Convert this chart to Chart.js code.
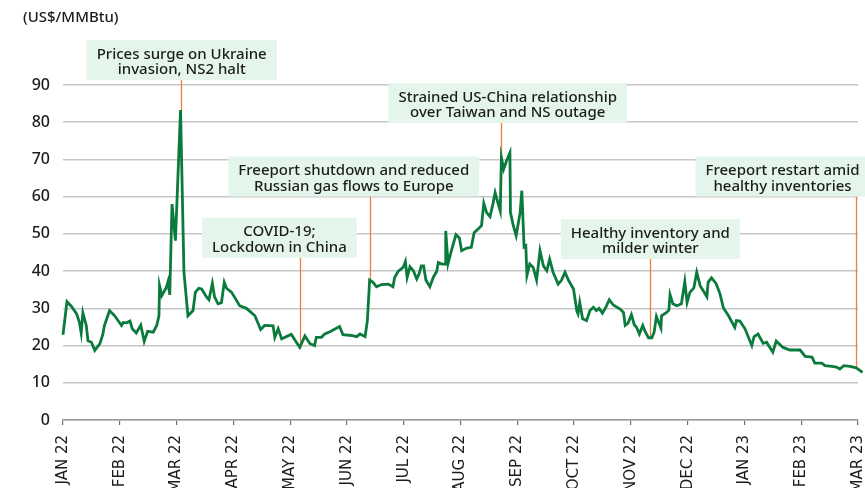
<!DOCTYPE html>
<html>
<head>
<meta charset="utf-8">
<script src="https://cdn.jsdelivr.net/npm/chart.js@4.4.1/dist/chart.umd.min.js"></script>
<style>
    html, body { margin: 0; padding: 0; background: #fff; overflow: hidden; }
</style>
</head>
<body>
<canvas id="lngChart" width="865" height="488"></canvas>
<script>
// tick labels, one per month (x position 0..14)
const monthLabels = ['JAN 22', 'FEB 22', 'MAR 22', 'APR 22', 'MAY 22', 'JUN 22', 'JUL 22', 'AUG 22',
    'SEP 22', 'OCT 22', 'NOV 22', 'DEC 22', 'JAN 23', 'FEB 23', 'MAR 23'];
const yTicks = [0, 10, 20, 30, 40, 50, 60, 70, 80, 90];

// price series: position in months since Jan 22, and US$/MMBtu
const priceMonth = [0.00, 0.07, 0.15, 0.24, 0.29, 0.32, 0.35, 0.41, 0.44, 0.50, 0.56, 0.65, 0.70, 0.73, 0.82, 0.91,
    1.03, 1.06, 1.12, 1.18, 1.22, 1.29, 1.37, 1.43, 1.49, 1.59, 1.65, 1.69, 1.70, 1.74, 1.82, 1.85, 1.88, 1.92, 1.98,
    2.07, 2.13, 2.20, 2.29, 2.33, 2.39, 2.44, 2.53, 2.57, 2.63, 2.67, 2.73, 2.79, 2.84, 2.88, 2.97,
    3.11, 3.23, 3.38, 3.48, 3.55, 3.70, 3.73, 3.79, 3.85,
    4.02, 4.11, 4.17, 4.26, 4.35, 4.43, 4.46, 4.55, 4.61, 4.71, 4.87, 4.93,
    5.08, 5.17, 5.23, 5.32, 5.36, 5.40, 5.46, 5.52, 5.61, 5.73, 5.81, 5.84, 5.90, 5.99,
    6.03, 6.06, 6.11, 6.17, 6.23, 6.27, 6.31, 6.35, 6.39, 6.46, 6.52, 6.58, 6.61, 6.67, 6.73, 6.74, 6.78, 6.84, 6.92, 6.98,
    7.02, 7.11, 7.19, 7.24, 7.31, 7.37, 7.41, 7.46, 7.52, 7.57, 7.61, 7.65, 7.70, 7.72, 7.76, 7.81, 7.87, 7.88, 7.93, 7.98,
    8.05, 8.08, 8.12, 8.15, 8.17, 8.22, 8.28, 8.34, 8.40, 8.46, 8.52, 8.57, 8.63, 8.72, 8.78, 8.84, 8.90, 8.99,
    9.05, 9.07, 9.10, 9.15, 9.22, 9.28, 9.34, 9.39, 9.44, 9.50, 9.56, 9.62, 9.69, 9.81, 9.87, 9.90, 9.95,
    10.01, 10.06, 10.10, 10.15, 10.21, 10.25, 10.31, 10.37, 10.41, 10.45, 10.53, 10.54, 10.63, 10.67, 10.69, 10.74, 10.81, 10.89, 10.95, 10.99,
    11.04, 11.11, 11.16, 11.22, 11.34, 11.36, 11.42, 11.50, 11.57, 11.63, 11.72, 11.83, 11.86, 11.92,
    12.01, 12.13, 12.17, 12.24, 12.33, 12.39, 12.50, 12.56, 12.68, 12.80, 12.98,
    13.07, 13.19, 13.24, 13.36, 13.42, 13.54, 13.62, 13.68, 13.75, 13.86, 13.97, 14.08];
const priceValue = [22.9, 31.8, 30.5, 28.5, 26.2, 23.4, 28.8, 25.4, 21.3, 20.9, 18.7, 20.5, 22.9, 25.4, 29.4, 28.0,
    25.4, 26.2, 26.1, 26.6, 24.5, 23.4, 25.5, 21.1, 23.8, 23.6, 25.4, 28.0, 36.1, 33.4, 35.6, 37.2, 33.6, 58.0, 48.2,
    83.3, 39.7, 28.0, 29.4, 34.3, 35.4, 35.2, 33.0, 32.3, 36.7, 33.0, 31.2, 31.5, 37.0, 35.4, 34.3,
    30.7, 30.0, 28.0, 24.3, 25.4, 25.3, 22.2, 24.5, 21.8,
    23.0, 20.9, 19.5, 22.6, 20.5, 20.0, 22.2, 22.2, 23.1, 23.8, 25.1, 22.9,
    22.7, 22.4, 23.1, 22.4, 26.7, 37.6, 37.0, 35.8, 36.4, 36.5, 35.8, 38.3, 39.9, 41.0,
    42.6, 38.3, 41.2, 40.1, 37.9, 39.2, 41.4, 41.4, 37.6, 35.8, 38.3, 39.9, 42.3, 41.9, 41.9, 50.8, 42.0, 45.5, 49.8, 48.9,
    45.5, 46.2, 46.4, 50.3, 51.3, 52.2, 58.2, 55.7, 54.6, 58.0, 61.1, 58.9, 56.2, 70.5, 67.4, 69.6, 71.8, 55.7, 52.2, 49.5,
    55.7, 61.6, 46.5, 46.8, 38.8, 41.9, 41.0, 37.6, 45.5, 41.4, 40.1, 43.2, 39.7, 36.5, 37.6, 39.7, 37.6, 35.2,
    29.2, 28.5, 31.6, 27.2, 26.7, 29.4, 30.3, 29.4, 30.0, 28.7, 30.3, 32.3, 30.9, 29.8, 28.9, 25.4, 26.0,
    28.3, 25.6, 24.9, 23.1, 25.4, 23.8, 22.1, 22.1, 23.6, 27.8, 24.7, 28.0, 28.9, 29.5, 33.7, 31.2, 30.7, 31.2, 37.2, 31.6,
    34.3, 35.5, 39.7, 36.1, 33.1, 37.0, 38.2, 36.7, 33.9, 30.1, 28.0, 24.9, 26.7, 26.6,
    24.5, 20.0, 22.4, 23.1, 20.6, 20.9, 18.2, 21.2, 19.5, 18.8, 18.8,
    17.1, 16.9, 15.3, 15.3, 14.6, 14.4, 14.2, 13.7, 14.6, 14.4, 14.0, 12.8];

// annotations: text, event month and the price the leader line points to
const noteText = [
    ['Prices surge on Ukraine', 'invasion, NS2 halt'],
    ['COVID-19;', 'Lockdown in China'],
    ['Freeport shutdown and reduced', 'Russian gas flows to Europe'],
    ['Strained US-China relationship', 'over Taiwan and NS outage'],
    ['Healthy inventory and', 'milder winter'],
    ['Freeport restart amid', 'healthy inventories']
];
const noteMonth = [2.07, 4.17, 5.40, 7.72, 10.34, 13.96];
const noteValue = [83.0, 19.2, 37.7, 70.4, 21.9, 14.1];

// box layout (pixels): centre x and top y of each label box
const noteBox = [
    { cx: 181.7, top: 40 },
    { cx: 279.4, top: 217.5 },
    { cx: 353.8, top: 156.5 },
    { cx: 507.7, top: 83 },
    { cx: 650.3, top: 219 },
    { cx: 782.5, top: 156.5 }
];

const GREEN = '#0b7a3d';
const ORANGE = '#ef7d3f';
const BOX_BG = '#e4f6eb';
const TEXT = '#1c1c1c';
const noteFont = '500 15px "Noto Sans", "Open Sans", sans-serif';

const pricePoints = priceMonth.map((m, i) => ({ x: m, y: priceValue[i] }));

// leader lines go under the series, boxes and unit label on top
const notesPlugin = {
    id: 'notes',
    beforeDatasetsDraw(chart) {
        const ctx = chart.ctx;
        const xs = chart.scales.x, ys = chart.scales.y;
        ctx.save();
        ctx.strokeStyle = ORANGE;
        ctx.lineWidth = 1.3;
        noteMonth.forEach((m, i) => {
            const px = Math.round(xs.getPixelForValue(m)) + 0.5;
            ctx.beginPath();
            ctx.moveTo(px, noteBox[i].top + 40);
            ctx.lineTo(px, ys.getPixelForValue(noteValue[i]));
            ctx.stroke();
        });
        ctx.restore();
    },
    afterDraw(chart) {
        const ctx = chart.ctx;
        ctx.save();
        ctx.font = noteFont;
        ctx.textAlign = 'center';
        ctx.textBaseline = 'alphabetic';
        noteText.forEach((lines, i) => {
            const w = Math.max(...lines.map(l => ctx.measureText(l).width)) + 20;
            const b = noteBox[i];
            ctx.fillStyle = BOX_BG;
            ctx.fillRect(b.cx - w / 2, b.top, w, 40);
            ctx.fillStyle = TEXT;
            ctx.fillText(lines[0], b.cx, b.top + 18.5);
            ctx.fillText(lines[1], b.cx, b.top + 34);
        });
        // units
        ctx.textAlign = 'left';
        ctx.fillText('(US$/MMBtu)', 23, 22);
        ctx.restore();
    }
};

new Chart(document.getElementById('lngChart'), {
    type: 'line',
    data: {
        datasets: [{
            data: pricePoints,
            borderColor: GREEN,
            borderWidth: 2.8,
            pointRadius: 0,
            tension: 0,
            clip: false
        }]
    },
    options: {
        responsive: false,
        animation: false,
        layout: { padding: { top: 85, right: 7, left: 0, bottom: 0 } },
        plugins: {
            legend: { display: false },
            tooltip: { enabled: false }
        },
        scales: {
            x: {
                type: 'linear',
                min: 0,
                max: 14,
                afterBuildTicks: (scale) => {
                    scale.ticks = monthLabels.map((l, i) => ({ value: i }));
                },
                afterFit: (scale) => {
                    scale.height = 68;
                    scale.paddingLeft = 0;
                    scale.paddingRight = 0;
                },
                border: { display: true, color: '#9a9a9a', width: 1.5 },
                grid: { display: true, drawOnChartArea: false, drawTicks: true, tickLength: 5, color: '#6f6f6f', lineWidth: 1.2 },
                ticks: {
                    autoSkip: false,
                    minRotation: 90,
                    maxRotation: 90,
                    padding: 10,
                    color: TEXT,
                    font: { family: '"DejaVu Sans", sans-serif', size: 15 },
                    callback: (v) => monthLabels[v]
                }
            },
            y: {
                min: 0,
                max: 90,
                afterBuildTicks: (scale) => {
                    scale.ticks = yTicks.map(v => ({ value: v }));
                },
                afterFit: (scale) => { scale.width = 63; },
                border: { display: false },
                grid: { color: '#c6c6c6', lineWidth: 1.5, drawTicks: false },
                ticks: {
                    padding: 13,
                    color: TEXT,
                    font: { family: '"Noto Sans", sans-serif', size: 16, weight: '500' }
                }
            }
        }
    },
    plugins: [notesPlugin]
});
</script>
</body>
</html>
